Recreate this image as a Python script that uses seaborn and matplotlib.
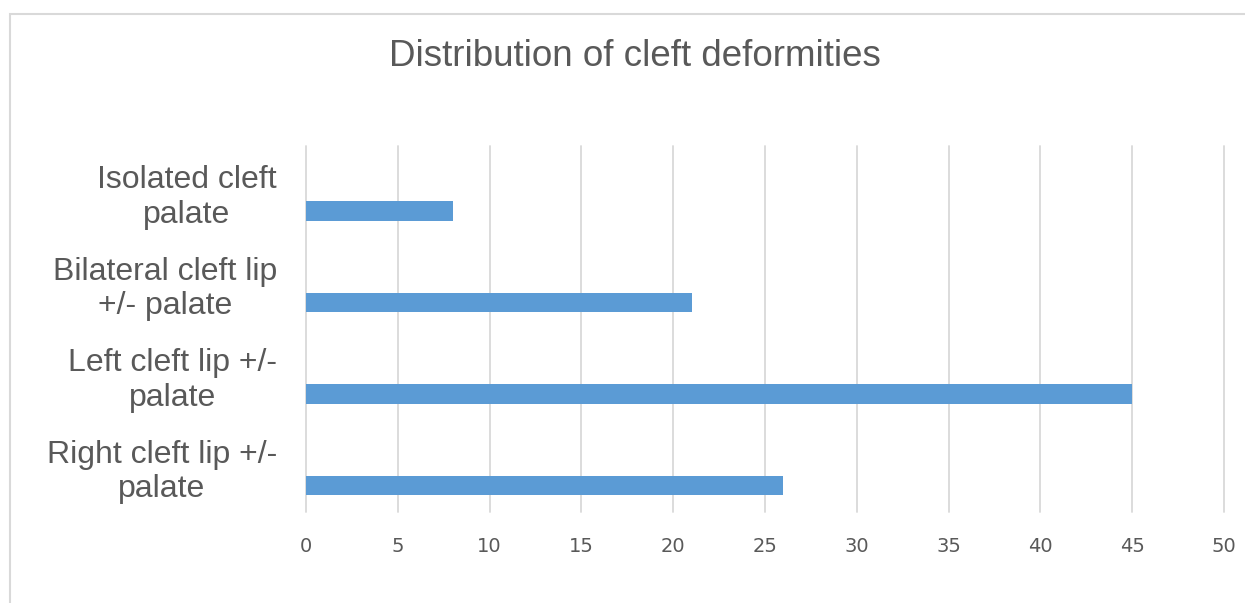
import matplotlib
matplotlib.use("Agg")
import matplotlib.pyplot as plt
from matplotlib.patches import Rectangle
import seaborn as sns
import pandas as pd

# data
categories = ["Isolated cleft\npalate",
              "Bilateral cleft lip\n+/- palate",
              "Left cleft lip +/-\npalate",
              "Right cleft lip +/-\npalate"]
counts = [8, 21, 45, 26]
x_ticks = [0, 5, 10, 15, 20, 25, 30, 35, 40, 45, 50]
title = "Distribution of cleft deformities"

df = pd.DataFrame({"deformity": categories, "patients": counts})

sns.set_theme(style="white")
plt.rcParams['font.family'] = ['Liberation Sans', 'DejaVu Sans']

W, H = 1245, 603
fig = plt.figure(figsize=(W / 100, H / 100), dpi=100)
ax = fig.add_axes([306 / W, 1 - 512 / H, (1224 - 306) / W, (512 - 146) / H])

bar_h = 0.21
sns.barplot(data=df, x="patients", y="deformity", color="#5b9bd5",
            saturation=1, width=bar_h, linewidth=0, ax=ax)
# Excel-style: bar sits below the middle of its category band
for bar in ax.patches:
    bar.set_y(bar.get_y() + bar_h)

ax.set_xlim(0, 50)
ax.set_ylim(3.5, -0.5)
ax.set_xticks(x_ticks)
ax.set_xlabel("")
ax.set_ylabel("")
ax.grid(axis="x", color="#d9d9d9", linewidth=1.3)
ax.grid(axis="y", visible=False)
for line in ax.get_xgridlines():
    line.set_clip_on(False)
ax.set_axisbelow(True)
sns.despine(ax=ax, left=True, bottom=True)

ax.tick_params(axis="x", length=0, pad=18, labelsize=14, labelcolor="#595959")
ax.tick_params(axis="y", length=0, pad=21, labelsize=23, labelcolor="#595959")
for lab in ax.get_xticklabels():
    lab.set_family(['DejaVu Sans'])
for lab in ax.get_yticklabels():
    lab.set_multialignment("center")
    lab.set_linespacing(1.2)

fig.text(634.5 / W, 1 - 57 / H, title, ha="center", va="center",
         fontsize=26.5, color="#595959")

# light chart border like the Excel chart area
fig.add_artist(Rectangle((10 / W, -0.1), 1.2, 1.1 - 14 / H,
                         transform=fig.transFigure, fill=False,
                         edgecolor="#d9d9d9", linewidth=1.5))

fig.savefig("out.png", dpi=100)
